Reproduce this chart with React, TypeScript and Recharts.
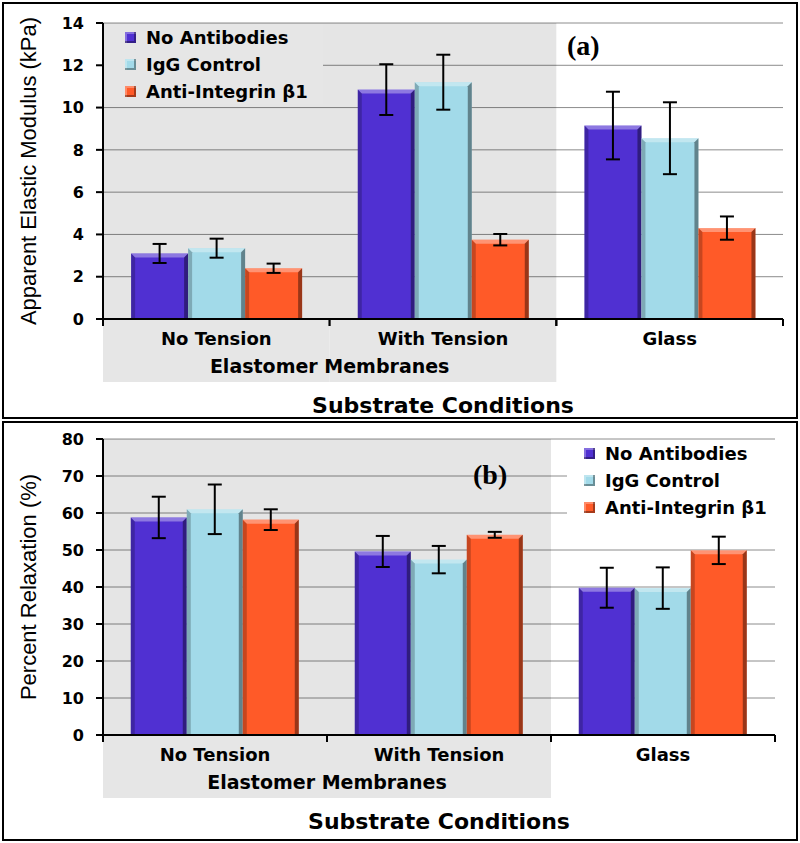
import React from 'react';
import {
  BarChart,
  Bar,
  XAxis,
  YAxis,
  CartesianGrid,
  ErrorBar,
  Legend,
  ReferenceArea,
} from 'recharts';

const categories = ['No Tension', 'With Tension', 'Glass'];
const elastomerGroup = ['No Tension', 'With Tension'];
const seriesNames = ['No Antibodies', 'IgG Control', 'Anti-Integrin β1'];
const seriesColors = ['#5030d2', '#a2dae9', '#ff5a28'];

// (a) apparent elastic modulus, kPa
const modulusNoAb = [3.1, 10.85, 9.15];
const modulusNoAbErr = [0.45, 1.2, 1.6];
const modulusIgG = [3.35, 11.2, 8.55];
const modulusIgGErr = [0.45, 1.3, 1.7];
const modulusAnti = [2.4, 3.75, 4.3];
const modulusAntiErr = [0.22, 0.27, 0.55];
const modulusTicks = [0, 2, 4, 6, 8, 10, 12, 14];

// (b) percent relaxation
const relaxNoAb = [58.8, 49.6, 39.8];
const relaxNoAbErr = [5.6, 4.2, 5.4];
const relaxIgG = [61, 47.4, 39.7];
const relaxIgGErr = [6.7, 3.7, 5.6];
const relaxAnti = [58.2, 54.1, 49.9];
const relaxAntiErr = [2.8, 0.8, 3.7];
const relaxTicks = [0, 10, 20, 30, 40, 50, 60, 70, 80];

const GRAY = '#e6e6e6';
const BOLD = "'DejaVu Sans', sans-serif";

const buildRows = (vals: number[][], errs: number[][]) =>
  categories.map((name, i) => ({
    name,
    s0: vals[0][i], e0: errs[0][i],
    s1: vals[1][i], e1: errs[1][i],
    s2: vals[2][i], e2: errs[2][i],
  }));

const modulusRows = buildRows(
  [modulusNoAb, modulusIgG, modulusAnti],
  [modulusNoAbErr, modulusIgGErr, modulusAntiErr]
);
const relaxRows = buildRows(
  [relaxNoAb, relaxIgG, relaxAnti],
  [relaxNoAbErr, relaxIgGErr, relaxAntiErr]
);

// bevelled bar like the office-style 3D bars
const BevelBar = (props: any) => {
  const { x, y, width, height, fill } = props;
  if (!height || height <= 0) return null;
  const b = 4;
  const r = x + width;
  const bt = y + height;
  return (
    <g>
      <rect x={x} y={y} width={width} height={height} fill={fill} />
      <polygon points={`${x},${y} ${r},${y} ${r - b},${y + b} ${x + b},${y + b}`} fill="#fff" fillOpacity={0.35} />
      <polygon points={`${x},${y} ${x + b},${y + b} ${x + b},${bt} ${x},${bt}`} fill="#000" fillOpacity={0.22} />
      <polygon points={`${r},${y} ${r},${bt} ${r - b},${bt} ${r - b},${y + b}`} fill="#000" fillOpacity={0.4} />
    </g>
  );
};

const CategoryTick = (props: any) => {
  const { x, y, payload } = props;
  const half = payload?.offset || 113;
  const inGroup = elastomerGroup.includes(payload.value);
  const isLastInGroup = payload.value === elastomerGroup[elastomerGroup.length - 1];
  return (
    <g>
      {inGroup && <rect x={x - half} y={y + 1} width={half * 2} height={62} fill={GRAY} />}
      <line x1={x - half} x2={x - half} y1={y} y2={y + 7} stroke="#000" strokeWidth={2} />
      <line x1={x + half} x2={x + half} y1={y} y2={y + 7} stroke="#000" strokeWidth={2} />
      <text x={x} y={y + 19} textAnchor="middle" dominantBaseline="central"
        fontFamily={BOLD} fontWeight="bold" fontSize={18} fill="#000">
        {payload.value}
      </text>
      {isLastInGroup && (
        <text x={x - half} y={y + 47} textAnchor="middle" dominantBaseline="central"
          fontFamily={BOLD} fontWeight="bold" fontSize={19} fill="#000">
          Elastomer Membranes
        </text>
      )}
    </g>
  );
};

const yTitle = (text: string) => (p: any) => {
  const vb = p.viewBox;
  const cx = vb.x + 28;
  const cy = vb.y + vb.height / 2;
  return (
    <text x={cx} y={cy} transform={`rotate(-90, ${cx}, ${cy})`} textAnchor="middle"
      dominantBaseline="central" fontFamily="'Liberation Sans', Arial, sans-serif"
      fontSize={22} fill="#000">
      {text}
    </text>
  );
};

const xTitle = (p: any) => {
  const vb = p.viewBox;
  return (
    <text x={vb.x + vb.width / 2} y={vb.y + 86} textAnchor="middle" dominantBaseline="central"
      fontFamily={BOLD} fontWeight="bold" fontSize={22} fill="#000">
      Substrate Conditions
    </text>
  );
};

const LegendBox = ({ payload, pad }: any) => {
  const items = [...(payload || [])].sort(
    (a: any, b: any) => seriesNames.indexOf(a.value) - seriesNames.indexOf(b.value)
  );
  return (
    <div style={{ paddingLeft: pad }}>
      {items.map((entry: any) => (
        <div key={entry.value} style={{ display: 'flex', alignItems: 'center', height: 27 }}>
          <span style={{
            display: 'inline-block', width: 11, height: 11, background: entry.color,
            boxShadow: 'inset -2px -2px 0 rgba(0,0,0,0.35), inset 2px 2px 0 rgba(255,255,255,0.3)',
            marginRight: 10,
          }} />
          <span style={{ fontFamily: BOLD, fontWeight: 'bold', fontSize: 18, color: '#000', whiteSpace: 'nowrap' }}>
            {entry.value}
          </span>
        </div>
      ))}
    </div>
  );
};

const axisStroke = { stroke: '#000', strokeWidth: 2 };

const Panel = ({ rows, ticks, max, height, margin, xHeight, yLabel, legendStyle, legendPad }: any) => (
  <BarChart width={800} height={height} data={rows} margin={margin} barCategoryGap="12.4%" barGap={0}>
    <CartesianGrid vertical={false} stroke="#8c8c8c" strokeWidth={1} />
    <ReferenceArea x1={elastomerGroup[0]} x2={elastomerGroup[1]} fill="#000" fillOpacity={0.1} stroke="none" />
    <XAxis dataKey="name" height={xHeight} axisLine={axisStroke} tickLine={false} tickSize={0}
      tickMargin={0} interval={0} tick={<CategoryTick />} label={{ content: xTitle }} />
    <YAxis width={103} domain={[0, max]} ticks={ticks} interval={0} axisLine={axisStroke}
      tickLine={axisStroke} tickSize={7} tickMargin={12}
      tick={{ fontFamily: BOLD, fontWeight: 'bold', fontSize: 16, fill: '#000' }}
      label={{ content: yTitle(yLabel) }} />
    <Legend layout="vertical" align="center" verticalAlign="middle"
      wrapperStyle={legendStyle} content={(p: any) => <LegendBox {...p} pad={legendPad} />} />
    {seriesNames.map((name, i) => (
      <Bar key={name} dataKey={`s${i}`} name={name} fill={seriesColors[i]} shape={<BevelBar />}
        isAnimationActive={false}>
        <ErrorBar dataKey={`e${i}`} width={7} stroke="#000" strokeWidth={2} isAnimationActive={false} />
      </Bar>
    ))}
  </BarChart>
);

const panelTag = (text: string, left: number, top: number) => (
  <div style={{
    position: 'absolute', left, top, transform: 'translateY(-50%)', lineHeight: 1,
    fontFamily: "'Liberation Serif', serif", fontWeight: 'bold', fontSize: 28, color: '#000',
  }}>{text}</div>
);

export default function App() {
  return (
    <div style={{ position: 'absolute', left: 0, top: 0, width: 800, height: 843, background: '#fff' }}>
      <div style={{ position: 'absolute', left: 2, top: 2, width: 796, height: 417, border: '2px solid #000', boxSizing: 'border-box' }} />
      <div style={{ position: 'absolute', left: 2, top: 421, width: 796, height: 420, border: '2px solid #000', boxSizing: 'border-box' }} />
      <div style={{ position: 'absolute', left: 0, top: 0 }}>
        <Panel rows={modulusRows} ticks={modulusTicks} max={14} height={420}
          margin={{ top: 23, right: 17, bottom: 0, left: 0 }} xHeight={101}
          yLabel="Apparent Elastic Modulus (kPa)"
          legendStyle={{ left: 104, top: 24, width: 219, height: 80, background: GRAY }}
          legendPad={21} />
      </div>
      <div style={{ position: 'absolute', left: 0, top: 420 }}>
        <Panel rows={relaxRows} ticks={relaxTicks} max={80} height={423}
          margin={{ top: 19, right: 25, bottom: 0, left: 0 }} xHeight={108}
          yLabel="Percent Relaxation (%)"
          legendStyle={{ left: 567, top: 20, width: 208, height: 84, background: '#fff' }}
          legendPad={17} />
      </div>
      {panelTag('(a)', 567, 46)}
      {panelTag('(b)', 473, 475)}
    </div>
  );
}
